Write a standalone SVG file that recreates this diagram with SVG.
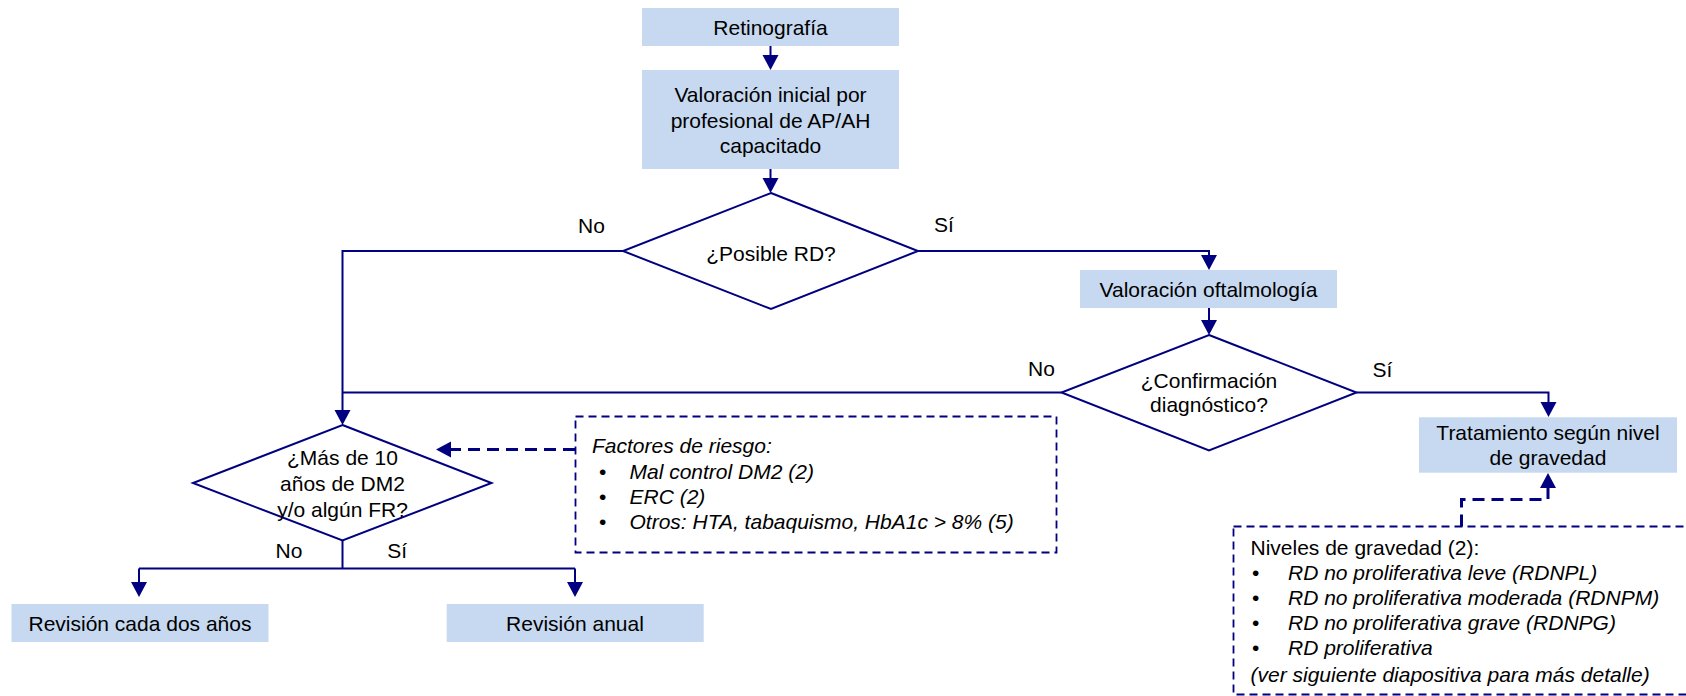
<svg xmlns="http://www.w3.org/2000/svg" width="1686" height="696" viewBox="0 0 1686 696">
<style>
text{font-family:"Liberation Sans",Arial,sans-serif;font-size:21px;fill:#000}
.c{text-anchor:middle}
.i{font-style:italic}
.box{fill:#c6d9f0;stroke:none}
.dia{fill:#fff;stroke:#000080;stroke-width:2}
.ln{fill:none;stroke:#000080;stroke-width:2}
.dl{fill:none;stroke:#000080;stroke-width:3;stroke-dasharray:12 7}
.db{fill:none;stroke:#000080;stroke-width:1.8;stroke-dasharray:8 5}
.ah{fill:#000080;stroke:none}
</style>
<defs>
<path id="adn" class="ah" d="M-8,-15 L8,-15 L0,0 z"/>
</defs>
<rect width="1686" height="696" fill="#fff"/>
<g id="connectors">
<path class="ln" d="M770.5,46 V58"/>
<use href="#adn" x="770.5" y="70"/>
<path class="ln" d="M770.5,169 V181"/>
<use href="#adn" x="770.5" y="193"/>
<path class="ln" d="M918,251 H1209 V258"/>
<use href="#adn" x="1209" y="270"/>
<path class="ln" d="M623,251 H342.5 V413"/>
<use href="#adn" x="342.5" y="425"/>
<path class="ln" d="M1061.5,392.5 H342.5"/>
<path class="ln" d="M1209,307.7 V323"/>
<use href="#adn" x="1209" y="335"/>
<path class="ln" d="M1356.5,392.5 H1548.5 V405"/>
<use href="#adn" x="1548.5" y="417"/>
<path class="ln" d="M342.5,540.5 V568.5"/>
<path class="ln" d="M139,568.5 H575"/>
<path class="ln" d="M139,568.5 V585"/>
<use href="#adn" x="139" y="597"/>
<path class="ln" d="M575,568.5 V585"/>
<use href="#adn" x="575" y="597"/>
<path class="dl" d="M575,449.5 H449"/>
<use href="#adn" transform="translate(436,449.5) rotate(90)"/>
<path class="dl" d="M1461.5,526.5 V499.5 H1548 V487"/>
<use href="#adn" transform="translate(1548,473) rotate(180)"/>
<text x="578" y="232.5">No</text>
<text x="934" y="232">Sí</text>
<text x="1028" y="376">No</text>
<text x="1372.5" y="376.5">Sí</text>
<text x="275.5" y="558.3">No</text>
<text x="387.3" y="558.3">Sí</text>
</g>
<g id="retinografia">
<rect class="box" x="642" y="8" width="257" height="38"/>
<text class="c" x="770.5" y="34.5">Retinografía</text>
</g>
<g id="valoracion-inicial">
<rect class="box" x="642" y="70" width="257" height="99"/>
<text class="c" x="770.5" y="102">Valoración inicial por</text>
<text class="c" x="770.5" y="127.5">profesional de AP/AH</text>
<text class="c" x="770.5" y="153">capacitado</text>
</g>
<g id="posible-rd">
<polygon class="dia" points="771,193 918,251 771,309 623,251"/>
<text class="c" x="771" y="261">¿Posible RD?</text>
</g>
<g id="valoracion-oftalmologia">
<rect class="box" x="1080" y="270" width="257" height="38"/>
<text class="c" x="1208.5" y="296.5">Valoración oftalmología</text>
</g>
<g id="confirmacion">
<polygon class="dia" points="1209,335 1356.5,392.5 1209,450.5 1061.5,392.5"/>
<text class="c" x="1209" y="388">¿Confirmación</text>
<text class="c" x="1209" y="412">diagnóstico?</text>
</g>
<g id="tratamiento">
<rect class="box" x="1419" y="417.3" width="258" height="55.4"/>
<text class="c" x="1548" y="440">Tratamiento según nivel</text>
<text class="c" x="1548" y="465">de gravedad</text>
</g>
<g id="mas-de-10">
<polygon class="dia" points="342.5,425 491.5,483 342.5,540.5 193,483"/>
<text class="c" x="342.5" y="465">¿Más de 10</text>
<text class="c" x="342.5" y="490.7">años de DM2</text>
<text class="c" x="342.5" y="516.5">y/o algún FR?</text>
</g>
<g id="factores-riesgo">
<rect class="db" x="575.5" y="416.5" width="481" height="136"/>
<text class="i" x="592" y="453">Factores de riesgo:</text>
<text x="599" y="479.3">•</text>
<text class="i" x="629.5" y="479.3">Mal control DM2 (2)</text>
<text x="599" y="504.3">•</text>
<text class="i" x="629.5" y="504.3">ERC (2)</text>
<text x="599" y="529.3">•</text>
<text class="i" x="629.5" y="529.3">Otros: HTA, tabaquismo, HbA1c &gt; 8% (5)</text>
</g>
<g id="revision-dos-anos">
<rect class="box" x="11.5" y="604" width="257" height="38"/>
<text class="c" x="140" y="630.5">Revisión cada dos años</text>
</g>
<g id="revision-anual">
<rect class="box" x="446.7" y="604" width="257" height="38"/>
<text class="c" x="575" y="630.5">Revisión anual</text>
</g>
<g id="niveles-gravedad">
<rect class="db" x="1233.5" y="526.5" width="500" height="168"/>
<text x="1250.5" y="555">Niveles de gravedad (2):</text>
<text x="1252" y="580">•</text>
<text class="i" x="1288" y="580">RD no proliferativa leve (RDNPL)</text>
<text x="1252" y="605">•</text>
<text class="i" x="1288" y="605">RD no proliferativa moderada (RDNPM)</text>
<text x="1252" y="630">•</text>
<text class="i" x="1288" y="630">RD no proliferativa grave (RDNPG)</text>
<text x="1252" y="655">•</text>
<text class="i" x="1288" y="655">RD proliferativa</text>
<text class="i" x="1250.5" y="681.5">(ver siguiente diapositiva para más detalle)</text>
</g>
</svg>
